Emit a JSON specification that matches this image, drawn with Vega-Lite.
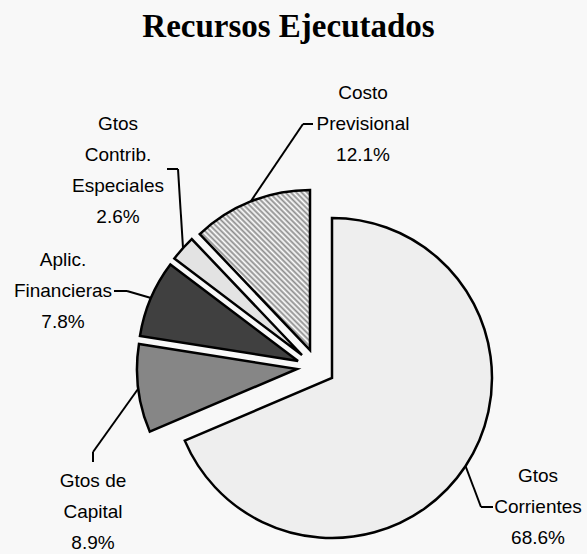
{
  "$schema": "https://vega.github.io/schema/vega-lite/v6.json",
  "width": 587,
  "height": 494,
  "autosize": {"type": "none"},
  "padding": {"top": 60, "left": 0, "right": 0, "bottom": 0},
  "background": "#f8f8f8",
  "title": {"text": "Recursos Ejecutados", "font": "Liberation Serif", "fontSize": 33, "fontWeight": "bold", "color": "#000000", "anchor": "middle", "baseline": "alphabetic", "offset": 23, "dx": -5, "dy": 33},
  "config": {"view": {"stroke": null}, "text": {"font": "Liberation Sans", "fontSize": 19, "lineHeight": 31, "color": "#000000"}},
  "data": {"values": [
    {"name": "Gtos Corrientes", "label": "Gtos\nCorrientes\n68.6%", "value": 68.6, "order": 1},
    {"name": "Gtos de Capital", "label": "Gtos de\nCapital\n8.9%", "value": 8.9, "order": 2},
    {"name": "Aplic. Financieras", "label": "Aplic.\nFinancieras\n7.8%", "value": 7.8, "order": 3},
    {"name": "Gtos Contrib. Especiales", "label": "Gtos\nContrib.\nEspeciales\n2.6%", "value": 2.6, "order": 4},
    {"name": "Costo Previsional", "label": "Costo\nPrevisional\n12.1%", "value": 12.1, "order": 5}
  ]},
  "transform": [{"stack": "value", "groupby": [], "sort": [{"field": "order", "order": "ascending"}], "as": ["start", "end"]}],
  "layer": [
    {"transform": [{"filter": "datum.order == 1"}],
     "layer": [
      {"mark": {"type": "arc", "x": 332, "y": 318, "radius": 160, "fill": "#eeeeee", "stroke": "#000000", "strokeWidth": 2.5},
       "encoding": {"theta": {"field": "start", "type": "quantitative", "scale": {"domain": [0, 100]}}, "theta2": {"field": "end"}}},
      {"mark": {"type": "text", "x": 538, "y": 416, "align": "center", "baseline": "middle", "lineBreak": "\n"}, "encoding": {"text": {"field": "label"}}},
      {"mark": {"type": "rule", "stroke": "#000000", "strokeWidth": 2}, "encoding": {"x": {"value": 465.5}, "y": {"value": 406}, "x2": {"value": 481}, "y2": {"value": 447}}},
      {"mark": {"type": "rule", "stroke": "#000000", "strokeWidth": 2}, "encoding": {"x": {"value": 481}, "y": {"value": 447}, "x2": {"value": 493}, "y2": {"value": 447}}}
     ]},
    {"transform": [{"filter": "datum.order == 2"}],
     "layer": [
      {"mark": {"type": "arc", "x": 297, "y": 309, "radius": 160, "fill": "#868686", "stroke": "#000000", "strokeWidth": 2.5},
       "encoding": {"theta": {"field": "start", "type": "quantitative", "scale": {"domain": [0, 100]}}, "theta2": {"field": "end"}}},
      {"mark": {"type": "text", "x": 93, "y": 421, "align": "center", "baseline": "middle", "lineBreak": "\n"}, "encoding": {"text": {"field": "label"}}},
      {"mark": {"type": "rule", "stroke": "#000000", "strokeWidth": 2}, "encoding": {"x": {"value": 138}, "y": {"value": 329}, "x2": {"value": 93}, "y2": {"value": 392}}},
      {"mark": {"type": "rule", "stroke": "#000000", "strokeWidth": 2}, "encoding": {"x": {"value": 93}, "y": {"value": 392}, "x2": {"value": 93}, "y2": {"value": 402}}}
     ]},
    {"transform": [{"filter": "datum.order == 3"}],
     "layer": [
      {"mark": {"type": "arc", "x": 298, "y": 301, "radius": 160, "fill": "#404040", "stroke": "#000000", "strokeWidth": 2.5},
       "encoding": {"theta": {"field": "start", "type": "quantitative", "scale": {"domain": [0, 100]}}, "theta2": {"field": "end"}}},
      {"mark": {"type": "text", "x": 63, "y": 200, "align": "center", "baseline": "middle", "lineBreak": "\n"}, "encoding": {"text": {"field": "label"}}},
      {"mark": {"type": "rule", "stroke": "#000000", "strokeWidth": 2}, "encoding": {"x": {"value": 151}, "y": {"value": 238}, "x2": {"value": 127}, "y2": {"value": 231}}},
      {"mark": {"type": "rule", "stroke": "#000000", "strokeWidth": 2}, "encoding": {"x": {"value": 127}, "y": {"value": 231}, "x2": {"value": 114}, "y2": {"value": 231}}}
     ]},
    {"transform": [{"filter": "datum.order == 4"}],
     "layer": [
      {"mark": {"type": "arc", "x": 302, "y": 295, "radius": 160, "fill": "#e3e3e3", "stroke": "#000000", "strokeWidth": 2.5},
       "encoding": {"theta": {"field": "start", "type": "quantitative", "scale": {"domain": [0, 100]}}, "theta2": {"field": "end"}}},
      {"mark": {"type": "text", "x": 118, "y": 63.5, "align": "center", "baseline": "middle", "lineBreak": "\n"}, "encoding": {"text": {"field": "label"}}},
      {"mark": {"type": "rule", "stroke": "#000000", "strokeWidth": 2}, "encoding": {"x": {"value": 183}, "y": {"value": 188}, "x2": {"value": 178}, "y2": {"value": 109}}},
      {"mark": {"type": "rule", "stroke": "#000000", "strokeWidth": 2}, "encoding": {"x": {"value": 178}, "y": {"value": 109}, "x2": {"value": 167}, "y2": {"value": 109}}}
     ]},
    {"transform": [{"filter": "datum.order == 5"}],
     "layer": [
      {"mark": {"type": "arc", "x": 310, "y": 290, "radius": 160, "stroke": "#000000", "strokeWidth": 2.5,
        "fill": {"gradient": "linear", "x1": 0, "y1": 1, "x2": 0.7878, "y2": -0.1458, "stops": [
          {"offset": 0.00, "color": "#8c8c8c"}, {"offset": 0.01, "color": "#ffffff"}, {"offset": 0.02, "color": "#8c8c8c"}, {"offset": 0.03, "color": "#ffffff"},
          {"offset": 0.04, "color": "#8c8c8c"}, {"offset": 0.05, "color": "#ffffff"}, {"offset": 0.06, "color": "#8c8c8c"}, {"offset": 0.07, "color": "#ffffff"},
          {"offset": 0.08, "color": "#8c8c8c"}, {"offset": 0.09, "color": "#ffffff"}, {"offset": 0.10, "color": "#8c8c8c"}, {"offset": 0.11, "color": "#ffffff"},
          {"offset": 0.12, "color": "#8c8c8c"}, {"offset": 0.13, "color": "#ffffff"}, {"offset": 0.14, "color": "#8c8c8c"}, {"offset": 0.15, "color": "#ffffff"},
          {"offset": 0.16, "color": "#8c8c8c"}, {"offset": 0.17, "color": "#ffffff"}, {"offset": 0.18, "color": "#8c8c8c"}, {"offset": 0.19, "color": "#ffffff"},
          {"offset": 0.20, "color": "#8c8c8c"}, {"offset": 0.21, "color": "#ffffff"}, {"offset": 0.22, "color": "#8c8c8c"}, {"offset": 0.23, "color": "#ffffff"},
          {"offset": 0.24, "color": "#8c8c8c"}, {"offset": 0.25, "color": "#ffffff"}, {"offset": 0.26, "color": "#8c8c8c"}, {"offset": 0.27, "color": "#ffffff"},
          {"offset": 0.28, "color": "#8c8c8c"}, {"offset": 0.29, "color": "#ffffff"}, {"offset": 0.30, "color": "#8c8c8c"}, {"offset": 0.31, "color": "#ffffff"},
          {"offset": 0.32, "color": "#8c8c8c"}, {"offset": 0.33, "color": "#ffffff"}, {"offset": 0.34, "color": "#8c8c8c"}, {"offset": 0.35, "color": "#ffffff"},
          {"offset": 0.36, "color": "#8c8c8c"}, {"offset": 0.37, "color": "#ffffff"}, {"offset": 0.38, "color": "#8c8c8c"}, {"offset": 0.39, "color": "#ffffff"},
          {"offset": 0.40, "color": "#8c8c8c"}, {"offset": 0.41, "color": "#ffffff"}, {"offset": 0.42, "color": "#8c8c8c"}, {"offset": 0.43, "color": "#ffffff"},
          {"offset": 0.44, "color": "#8c8c8c"}, {"offset": 0.45, "color": "#ffffff"}, {"offset": 0.46, "color": "#8c8c8c"}, {"offset": 0.47, "color": "#ffffff"},
          {"offset": 0.48, "color": "#8c8c8c"}, {"offset": 0.49, "color": "#ffffff"}, {"offset": 0.50, "color": "#8c8c8c"}, {"offset": 0.51, "color": "#ffffff"},
          {"offset": 0.52, "color": "#8c8c8c"}, {"offset": 0.53, "color": "#ffffff"}, {"offset": 0.54, "color": "#8c8c8c"}, {"offset": 0.55, "color": "#ffffff"},
          {"offset": 0.56, "color": "#8c8c8c"}, {"offset": 0.57, "color": "#ffffff"}, {"offset": 0.58, "color": "#8c8c8c"}, {"offset": 0.59, "color": "#ffffff"},
          {"offset": 0.60, "color": "#8c8c8c"}, {"offset": 0.61, "color": "#ffffff"}, {"offset": 0.62, "color": "#8c8c8c"}, {"offset": 0.63, "color": "#ffffff"},
          {"offset": 0.64, "color": "#8c8c8c"}, {"offset": 0.65, "color": "#ffffff"}, {"offset": 0.66, "color": "#8c8c8c"}, {"offset": 0.67, "color": "#ffffff"},
          {"offset": 0.68, "color": "#8c8c8c"}, {"offset": 0.69, "color": "#ffffff"}, {"offset": 0.70, "color": "#8c8c8c"}, {"offset": 0.71, "color": "#ffffff"},
          {"offset": 0.72, "color": "#8c8c8c"}, {"offset": 0.73, "color": "#ffffff"}, {"offset": 0.74, "color": "#8c8c8c"}, {"offset": 0.75, "color": "#ffffff"},
          {"offset": 0.76, "color": "#8c8c8c"}, {"offset": 0.77, "color": "#ffffff"}, {"offset": 0.78, "color": "#8c8c8c"}, {"offset": 0.79, "color": "#ffffff"},
          {"offset": 0.80, "color": "#8c8c8c"}, {"offset": 0.81, "color": "#ffffff"}, {"offset": 0.82, "color": "#8c8c8c"}, {"offset": 0.83, "color": "#ffffff"},
          {"offset": 0.84, "color": "#8c8c8c"}, {"offset": 0.85, "color": "#ffffff"}, {"offset": 0.86, "color": "#8c8c8c"}, {"offset": 0.87, "color": "#ffffff"},
          {"offset": 0.88, "color": "#8c8c8c"}, {"offset": 0.89, "color": "#ffffff"}, {"offset": 0.90, "color": "#8c8c8c"}, {"offset": 0.91, "color": "#ffffff"},
          {"offset": 0.92, "color": "#8c8c8c"}, {"offset": 0.93, "color": "#ffffff"}, {"offset": 0.94, "color": "#8c8c8c"}, {"offset": 0.95, "color": "#ffffff"},
          {"offset": 0.96, "color": "#8c8c8c"}, {"offset": 0.97, "color": "#ffffff"}, {"offset": 0.98, "color": "#8c8c8c"}, {"offset": 0.99, "color": "#ffffff"},
          {"offset": 1.00, "color": "#8c8c8c"}
        ]}},
       "encoding": {"theta": {"field": "start", "type": "quantitative", "scale": {"domain": [0, 100]}}, "theta2": {"field": "end"}}},
      {"mark": {"type": "text", "x": 363, "y": 33, "align": "center", "baseline": "middle", "lineBreak": "\n"}, "encoding": {"text": {"field": "label"}}},
      {"mark": {"type": "rule", "stroke": "#000000", "strokeWidth": 2}, "encoding": {"x": {"value": 251}, "y": {"value": 141}, "x2": {"value": 303}, "y2": {"value": 64}}},
      {"mark": {"type": "rule", "stroke": "#000000", "strokeWidth": 2}, "encoding": {"x": {"value": 303}, "y": {"value": 64}, "x2": {"value": 313}, "y2": {"value": 64}}}
     ]}
  ]
}
